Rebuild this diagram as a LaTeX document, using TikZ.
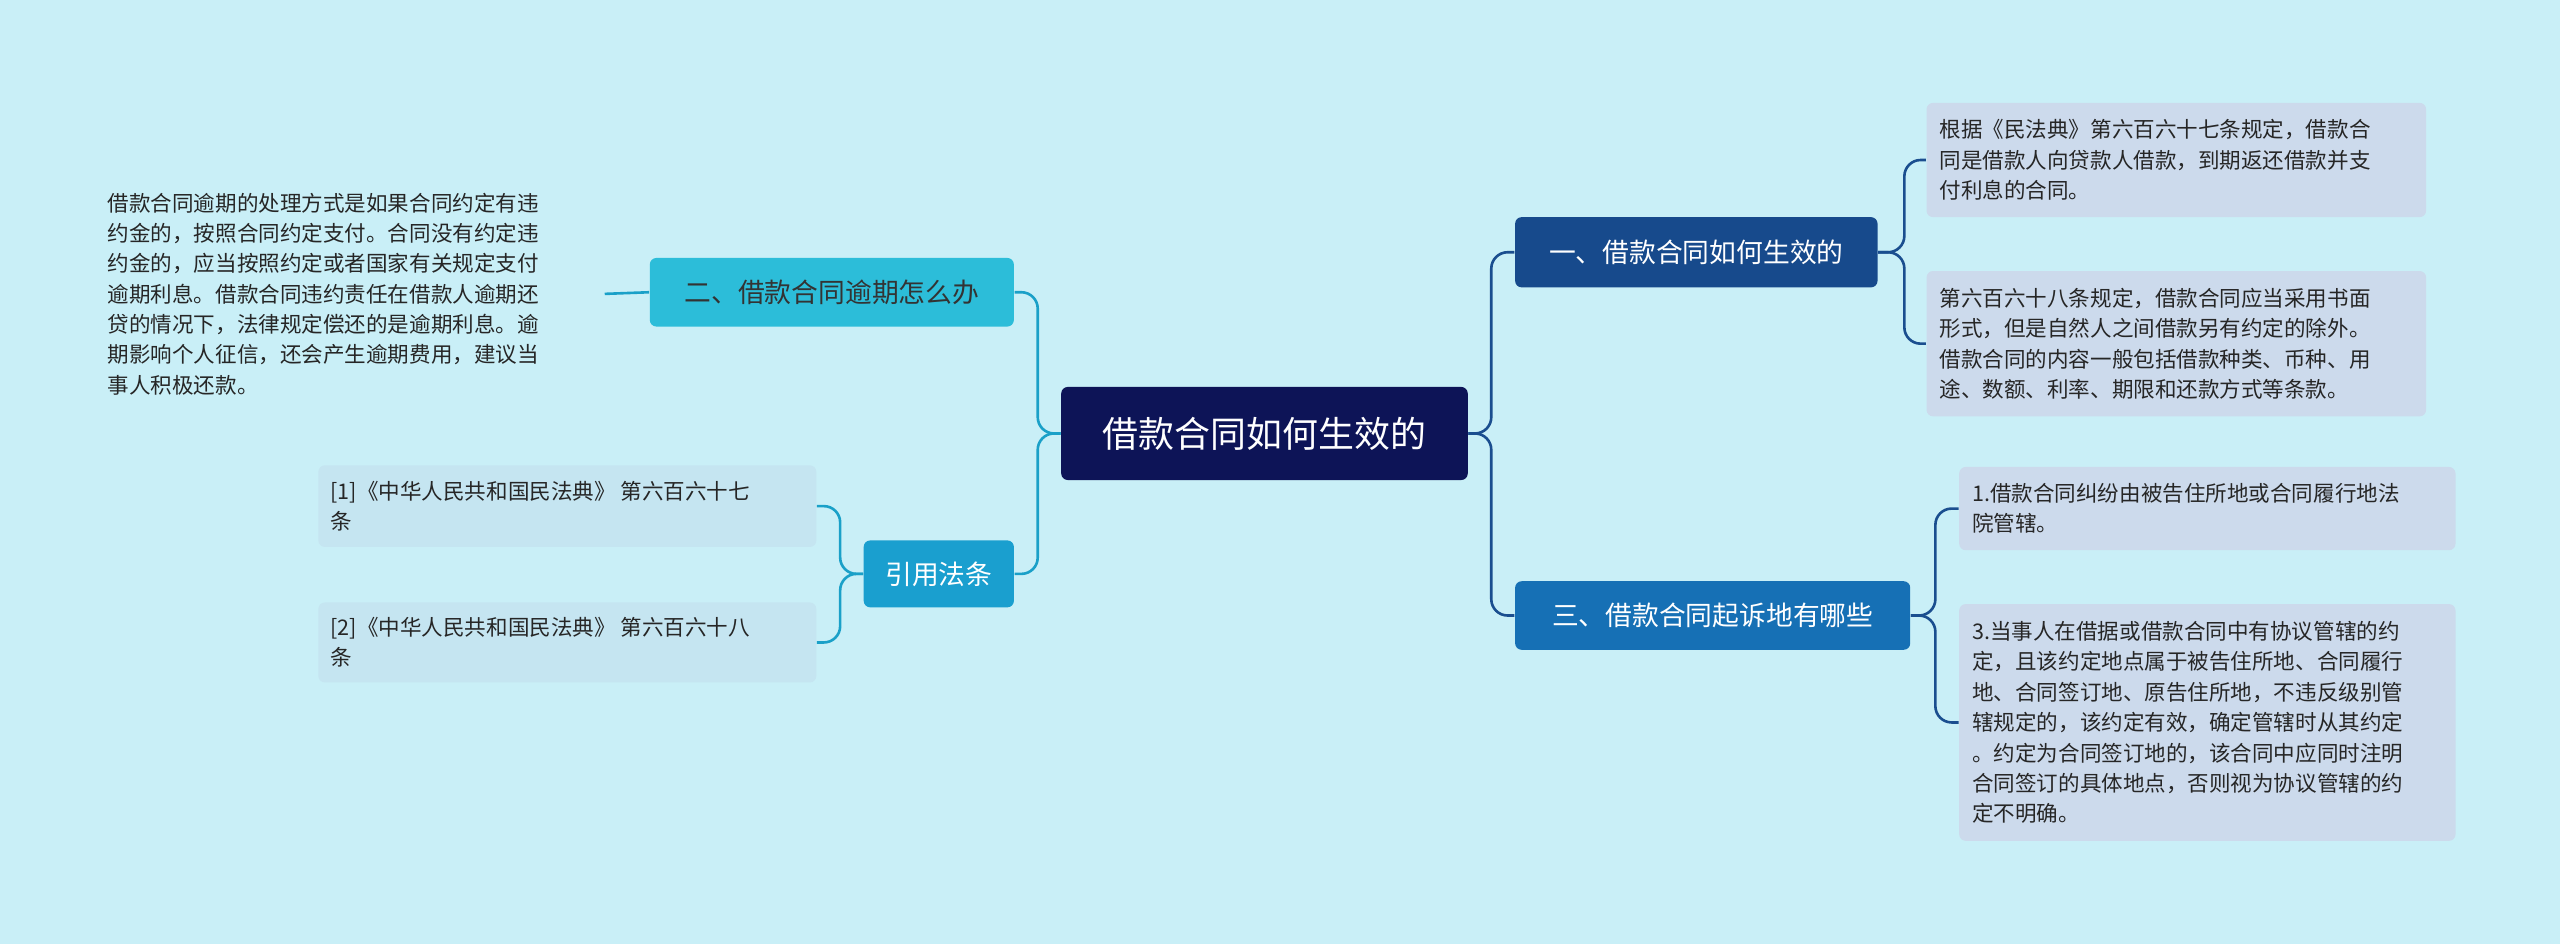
\documentclass[tikz,border=0pt]{standalone}
\usepackage{fontspec}
\setmainfont{Noto Sans CJK SC}
\begin{document}
\begin{tikzpicture}[x=0.5pt,y=-0.5pt,
 base/.style={rounded corners=2pt,inner sep=0pt,align=left},
 leafr/.style={base,fill=leafc,font=\fontsize{6.6}{9.3}\selectfont,text=black!85},
 leafl/.style={base,fill=citec,font=\fontsize{6.6}{9.3}\selectfont,text=black!85},
 conR/.style={draw=darkc,line width=0.8pt,rounded corners=5pt},
 conL/.style={draw=cyanc,line width=0.8pt,rounded corners=5pt}]
\definecolor{bg}{HTML}{C9EFF7}
\definecolor{centc}{HTML}{0D1457}
\definecolor{b1}{HTML}{174A8C}
\definecolor{b3}{HTML}{1670B5}
\definecolor{b2}{HTML}{2CBDD9}
\definecolor{b4}{HTML}{1A9FCF}
\definecolor{leafc}{HTML}{CCDAEC}
\definecolor{citec}{HTML}{C5E5F1}
\definecolor{darkc}{HTML}{1A4E8F}
\definecolor{cyanc}{HTML}{1AA0C8}
\fill[bg] (0,0) rectangle (1568,578);
\useasboundingbox (0,0) rectangle (1568,578);
\node[base,fill=centc,text=white,minimum width=124.5pt,minimum height=28.5pt,align=center,font=\fontsize{11}{13}\selectfont] (c) at (774.5,265.5) {借款合同如何生效的};
\node[base,fill=b1,text=white,minimum width=111pt,minimum height=21.5pt,align=center,font=\fontsize{8.2}{10}\selectfont] (n1) at (1039,154.5) {一、借款合同如何生效的};
\node[base,fill=b3,text=white,minimum width=121pt,minimum height=21pt,align=center,font=\fontsize{8.2}{10}\selectfont] (n3) at (1049,377) {三、借款合同起诉地有哪些};
\node[base,fill=b2,text=black!80,minimum width=111.5pt,minimum height=21pt,align=center,font=\fontsize{8.2}{10}\selectfont] (n2) at (509.5,179) {二、借款合同逾期怎么办};
\node[base,fill=b4,text=white,minimum width=46pt,minimum height=20.5pt,align=center,font=\fontsize{8.2}{10}\selectfont] (n4) at (575,351.5) {引用法条};
\node[leafr,minimum width=153pt,minimum height=35pt] (l1) at (1333,98) {\parbox{145pt}{根据《民法典》第六百六十七条规定，借款合\\同是借款人向贷款人借款，到期返还借款并支\\付利息的合同。}};
\node[leafr,minimum width=153pt,minimum height=44.5pt] (l2) at (1333,210.5) {\parbox{145pt}{第六百六十八条规定，借款合同应当采用书面\\形式，但是自然人之间借款另有约定的除外。\\借款合同的内容一般包括借款种类、币种、用\\途、数额、利率、期限和还款方式等条款。}};
\node[leafr,minimum width=152pt,minimum height=25.5pt] (l3) at (1352,311.5) {\parbox{144pt}{1.借款合同纠纷由被告住所地或合同履行地法\\院管辖。}};
\node[leafr,minimum width=152pt,minimum height=72.5pt] (l4) at (1352,442.5) {\parbox{144pt}{3.当事人在借据或借款合同中有协议管辖的约\\定，且该约定地点属于被告住所地、合同履行\\地、合同签订地、原告住所地，不违反级别管\\辖规定的，该约定有效，确定管辖时从其约定\\。约定为合同签订地的，该合同中应同时注明\\合同签订的具体地点，否则视为协议管辖的约\\定不明确。}};
\node[base,font=\fontsize{6.6}{9.3}\selectfont,text=black!85,minimum width=154pt,minimum height=67pt] (t2) at (216,180) {\parbox{150pt}{借款合同逾期的处理方式是如果合同约定有违\\约金的，按照合同约定支付。合同没有约定违\\约金的，应当按照约定或者国家有关规定支付\\逾期利息。借款合同违约责任在借款人逾期还\\贷的情况下，法律规定偿还的是逾期利息。逾\\期影响个人征信，还会产生逾期费用，建议当\\事人积极还款。}};
\node[leafl,minimum width=152.5pt,minimum height=25pt] (c1) at (347.5,310) {\parbox{145pt}{[1]《中华人民共和国民法典》 第六百六十七\\条}};
\node[leafl,minimum width=152.5pt,minimum height=24.5pt] (c2) at (347.5,393.5) {\parbox{145pt}{[2]《中华人民共和国民法典》 第六百六十八\\条}};
\draw[conR] (c.east) -- ++(14,0) |- (n1.west);
\draw[conR] (c.east) -- ++(14,0) |- (n3.west);
\draw[conL] (c.west) -- ++(-14,0) |- (n2.east);
\draw[conL] (c.west) -- ++(-14,0) |- (n4.east);
\draw[conR] (n1.east) -- ++(16,0) |- (l1.west);
\draw[conR] (n1.east) -- ++(16,0) |- (l2.west);
\draw[conR] (n3.east) -- ++(15,0) |- (l3.west);
\draw[conR] (n3.east) -- ++(15,0) |- (l4.west);
\draw[conL] (n2.west) -- (t2.east);
\draw[conL] (n4.west) -- ++(-14,0) |- (c1.east);
\draw[conL] (n4.west) -- ++(-14,0) |- (c2.east);
\end{tikzpicture}
\end{document}
